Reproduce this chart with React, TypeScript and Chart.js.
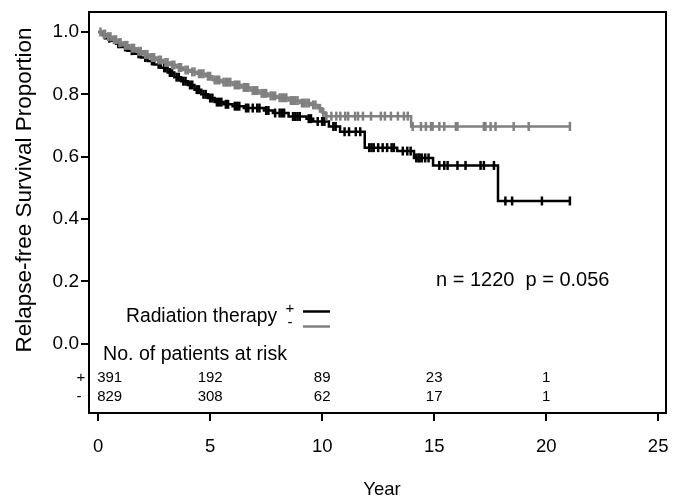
import React, { useEffect, useRef } from "react";
import { Chart, registerables } from "chart.js";

Chart.register(...registerables);

// Kaplan-Meier step data (event times in years, survival after each step)
const rtPlusTimes = [0, 0.2, 0.4, 0.6, 0.8, 1.0, 1.3, 1.6, 1.9, 2.2, 2.5, 2.8, 3.1, 3.4, 3.7, 4.0, 4.3, 4.6, 4.9, 5.2, 5.6, 6.0, 6.5, 7.4, 7.8, 8.5, 9.3, 9.6, 10.3, 10.8, 11.9, 13.35, 14.1, 14.95, 17.85, 21.06];
const rtPlusSurv = [1.0, 0.99, 0.98, 0.972, 0.962, 0.952, 0.94, 0.93, 0.918, 0.907, 0.896, 0.885, 0.87, 0.855, 0.842, 0.83, 0.815, 0.8, 0.788, 0.775, 0.768, 0.762, 0.756, 0.748, 0.74, 0.729, 0.722, 0.713, 0.697, 0.68, 0.629, 0.618, 0.596, 0.572, 0.458, 0.458];

const rtMinusTimes = [0, 0.15, 0.35, 0.6, 0.85, 1.1, 1.4, 1.7, 2.0, 2.3, 2.6, 2.9, 3.2, 3.5, 3.8, 4.1, 4.4, 4.8, 5.1, 5.5, 6.0, 6.4, 6.8, 7.2, 7.6, 8.0, 8.5, 9.0, 9.5, 9.8, 10.0, 10.15, 13.97, 21.06];
const rtMinusSurv = [1.0, 0.993, 0.985, 0.975, 0.966, 0.957, 0.948, 0.938, 0.928, 0.918, 0.91, 0.902, 0.894, 0.886, 0.878, 0.872, 0.866, 0.858, 0.846, 0.839, 0.83, 0.822, 0.812, 0.803, 0.795, 0.789, 0.78, 0.772, 0.766, 0.755, 0.742, 0.73, 0.697, 0.697];

// Censoring times
const rtPlusCensor = [0.3, 0.5, 0.9, 1.2, 1.5, 1.8, 2.1, 2.4, 2.7, 2.95, 3.0, 3.2, 3.3, 3.5, 3.6, 3.8, 3.9, 4.1, 4.2, 4.4, 4.5, 4.7, 4.8, 5.0, 5.1, 5.3, 5.4, 5.5, 5.7, 5.8, 6.1, 6.2, 6.3, 6.6, 6.7, 6.9, 7.1, 7.2, 7.5, 7.6, 7.9, 8.1, 8.2, 8.3, 8.7, 8.8, 8.9, 9.0, 9.4, 9.5, 9.8, 10.0, 10.1, 10.5, 10.6, 11.0, 11.2, 11.5, 11.7, 12.1, 12.2, 12.3, 12.5, 12.7, 12.9, 13.1, 13.2, 13.6, 13.8, 13.95, 14.2, 14.3, 14.35, 14.45, 14.6, 14.75, 15.23, 15.45, 15.6, 16.04, 16.4, 17.07, 17.22, 17.67, 18.18, 18.48, 19.81, 21.06];
const rtMinusCensor = [0.1, 0.25, 0.3, 0.45, 0.55, 0.7, 0.8, 0.95, 1.0, 1.2, 1.3, 1.5, 1.6, 1.8, 1.9, 2.1, 2.2, 2.4, 2.5, 2.7, 2.8, 3.0, 3.1, 3.3, 3.4, 3.6, 3.7, 3.9, 4.0, 4.2, 4.3, 4.5, 4.6, 4.7, 4.9, 5.0, 5.2, 5.3, 5.4, 5.6, 5.7, 5.8, 5.9, 6.1, 6.2, 6.3, 6.5, 6.6, 6.7, 6.9, 7.0, 7.1, 7.3, 7.4, 7.5, 7.7, 7.8, 7.9, 8.1, 8.2, 8.3, 8.4, 8.6, 8.7, 8.8, 8.9, 9.1, 9.2, 9.3, 9.4, 9.6, 9.7, 9.9, 10.05, 10.19, 10.41, 10.63, 10.81, 11.03, 11.16, 11.47, 11.6, 11.82, 12.18, 12.62, 12.8, 13.07, 13.38, 13.65, 13.82, 14.04, 14.41, 14.63, 14.86, 14.93, 15.23, 15.45, 15.97, 16.04, 17.22, 17.29, 17.52, 17.74, 18.55, 19.22, 21.06];

const xTicks = [0, 5, 10, 15, 20, 25];
const yTicks = [0, 0.2, 0.4, 0.6, 0.8, 1.0];

const riskTimes = [0, 5, 10, 15, 20];
const riskPlus = [391, 192, 89, 23, 1];
const riskMinus = [829, 308, 62, 17, 1];

const nTotal = 1220;
const pValue = "0.056";

const yTitle = "Relapse-free Survival Proportion";
const xTitle = "Year";
const legendTitle = "Radiation therapy";
const riskTitle = "No. of patients at risk";

const BLACK = "#000000";
const GRAY = "#808080";
const FONT = "Arial, 'Liberation Sans', sans-serif";

function survAt(times: number[], surv: number[], t: number) {
  let s = surv[0];
  for (let i = 0; i < times.length; i++) {
    if (times[i] <= t) s = surv[i];
  }
  return s;
}

const annotations = {
  id: "annotations",
  afterDraw(chart: any) {
    const ctx = chart.ctx;
    const area = chart.chartArea;
    const xs = chart.scales.x;
    ctx.save();
    // frame
    ctx.strokeStyle = BLACK;
    ctx.lineWidth = 2;
    ctx.strokeRect(area.left, area.top, area.right - area.left, area.bottom - area.top);

    ctx.fillStyle = BLACK;
    // y title
    ctx.save();
    ctx.translate(31, 190);
    ctx.rotate(-Math.PI / 2);
    ctx.font = `22.5px ${FONT}`;
    ctx.textAlign = "center";
    ctx.textBaseline = "alphabetic";
    ctx.fillText(yTitle, 0, 0);
    ctx.restore();

    // x title
    ctx.font = `18.5px ${FONT}`;
    ctx.textAlign = "center";
    ctx.textBaseline = "alphabetic";
    ctx.fillText(xTitle, 382, 495);

    // n / p text
    ctx.font = `20px ${FONT}`;
    ctx.textAlign = "left";
    ctx.fillText(`n = ${nTotal}  p = ${pValue}`, 436, 286);

    // legend
    ctx.font = `19.3px ${FONT}`;
    ctx.fillText(legendTitle, 126, 322);
    ctx.font = `15px ${FONT}`;
    ctx.textAlign = "center";
    ctx.textBaseline = "middle";
    ctx.fillText("+", 290, 309);
    ctx.fillText("-", 290, 323);
    ctx.lineWidth = 2.5;
    ctx.strokeStyle = BLACK;
    ctx.beginPath();
    ctx.moveTo(303, 311.5);
    ctx.lineTo(330, 311.5);
    ctx.stroke();
    ctx.strokeStyle = GRAY;
    ctx.beginPath();
    ctx.moveTo(303, 326.5);
    ctx.lineTo(330, 326.5);
    ctx.stroke();

    // risk table
    ctx.fillStyle = BLACK;
    ctx.textBaseline = "alphabetic";
    ctx.textAlign = "left";
    ctx.font = `19.6px ${FONT}`;
    ctx.fillText(riskTitle, 103, 360);
    ctx.font = `15px ${FONT}`;
    ctx.textAlign = "center";
    ctx.fillText("+", 81, 382);
    ctx.fillText("-", 79, 401);
    riskTimes.forEach((t, i) => {
      const px = xs.getPixelForValue(t);
      if (i === 0) {
        ctx.textAlign = "left";
        ctx.fillText(String(riskPlus[i]), px - 1, 382);
        ctx.fillText(String(riskMinus[i]), px - 1, 401);
      } else {
        ctx.textAlign = "center";
        ctx.fillText(String(riskPlus[i]), px, 382);
        ctx.fillText(String(riskMinus[i]), px, 401);
      }
    });
    ctx.restore();
  },
};

export default function App() {
  const ref = useRef<HTMLCanvasElement | null>(null);
  useEffect(() => {
    if (!ref.current) return;
    const lineData = (times: number[], surv: number[]) =>
      times.map((t, i) => ({ x: t, y: surv[i] }));
    const censorData = (c: number[], times: number[], surv: number[]) =>
      c.map((t) => ({ x: t, y: survAt(times, surv, t) }));

    const censorStyle = (color: string) => ({
      showLine: false,
      pointStyle: "line" as const,
      pointRotation: 90,
      pointRadius: 4.5,
      pointBorderWidth: 2.5,
      pointBorderColor: color,
      borderColor: color,
      backgroundColor: color,
    });

    const chart = new Chart(ref.current, {
      type: "line",
      data: {
        datasets: [
          {
            label: "RT - censor",
            data: censorData(rtMinusCensor, rtMinusTimes, rtMinusSurv),
            ...censorStyle(GRAY),
          },
          {
            label: "RT -",
            data: lineData(rtMinusTimes, rtMinusSurv),
            stepped: true,
            borderColor: GRAY,
            borderWidth: 2.5,
            pointRadius: 0,
            fill: false,
          },
          {
            label: "RT + censor",
            data: censorData(rtPlusCensor, rtPlusTimes, rtPlusSurv),
            ...censorStyle(BLACK),
          },
          {
            label: "RT +",
            data: lineData(rtPlusTimes, rtPlusSurv),
            stepped: true,
            borderColor: BLACK,
            borderWidth: 2.5,
            pointRadius: 0,
            fill: false,
          },
        ],
      },
      options: {
        animation: false,
        responsive: false,
        devicePixelRatio: 1,
        layout: { padding: { top: 12, right: 6, left: 0, bottom: 0 } },
        plugins: { legend: { display: false }, tooltip: { enabled: false } },
        scales: {
          x: {
            type: "linear",
            min: -0.41,
            max: 25.35,
            afterBuildTicks: (s: any) => {
              s.ticks = xTicks.map((v) => ({ value: v }));
            },
            afterFit: (s: any) => {
              s.height = 89;
              s.paddingLeft = 0;
              s.paddingRight = 0;
            },
            grid: { drawOnChartArea: false, drawTicks: true, tickLength: 8, color: BLACK, lineWidth: 2 },
            border: { display: false },
            ticks: {
              color: BLACK,
              font: { size: 18.5, family: FONT },
              padding: 15,
              maxRotation: 0,
              callback: (v: any) => String(v),
            },
          },
          y: {
            type: "linear",
            min: -0.222,
            max: 1.064,
            afterBuildTicks: (s: any) => {
              s.ticks = yTicks.map((v) => ({ value: v }));
            },
            afterFit: (s: any) => {
              s.width = 89;
              s.paddingTop = 0;
              s.paddingBottom = 0;
            },
            grid: { drawOnChartArea: false, drawTicks: true, tickLength: 8, color: BLACK, lineWidth: 2 },
            border: { display: false },
            ticks: {
              color: BLACK,
              font: { size: 19, family: FONT },
              padding: 2,
              callback: (v: any) => Number(v).toFixed(1),
            },
          },
        },
      },
      plugins: [annotations],
    });
    return () => chart.destroy();
  }, []);

  return (
    <div style={{ position: "absolute", left: 0, top: 0, width: 673, height: 502, background: "#fff" }}>
      <canvas ref={ref} width={673} height={502} style={{ width: 673, height: 502, display: "block" }} />
    </div>
  );
}
